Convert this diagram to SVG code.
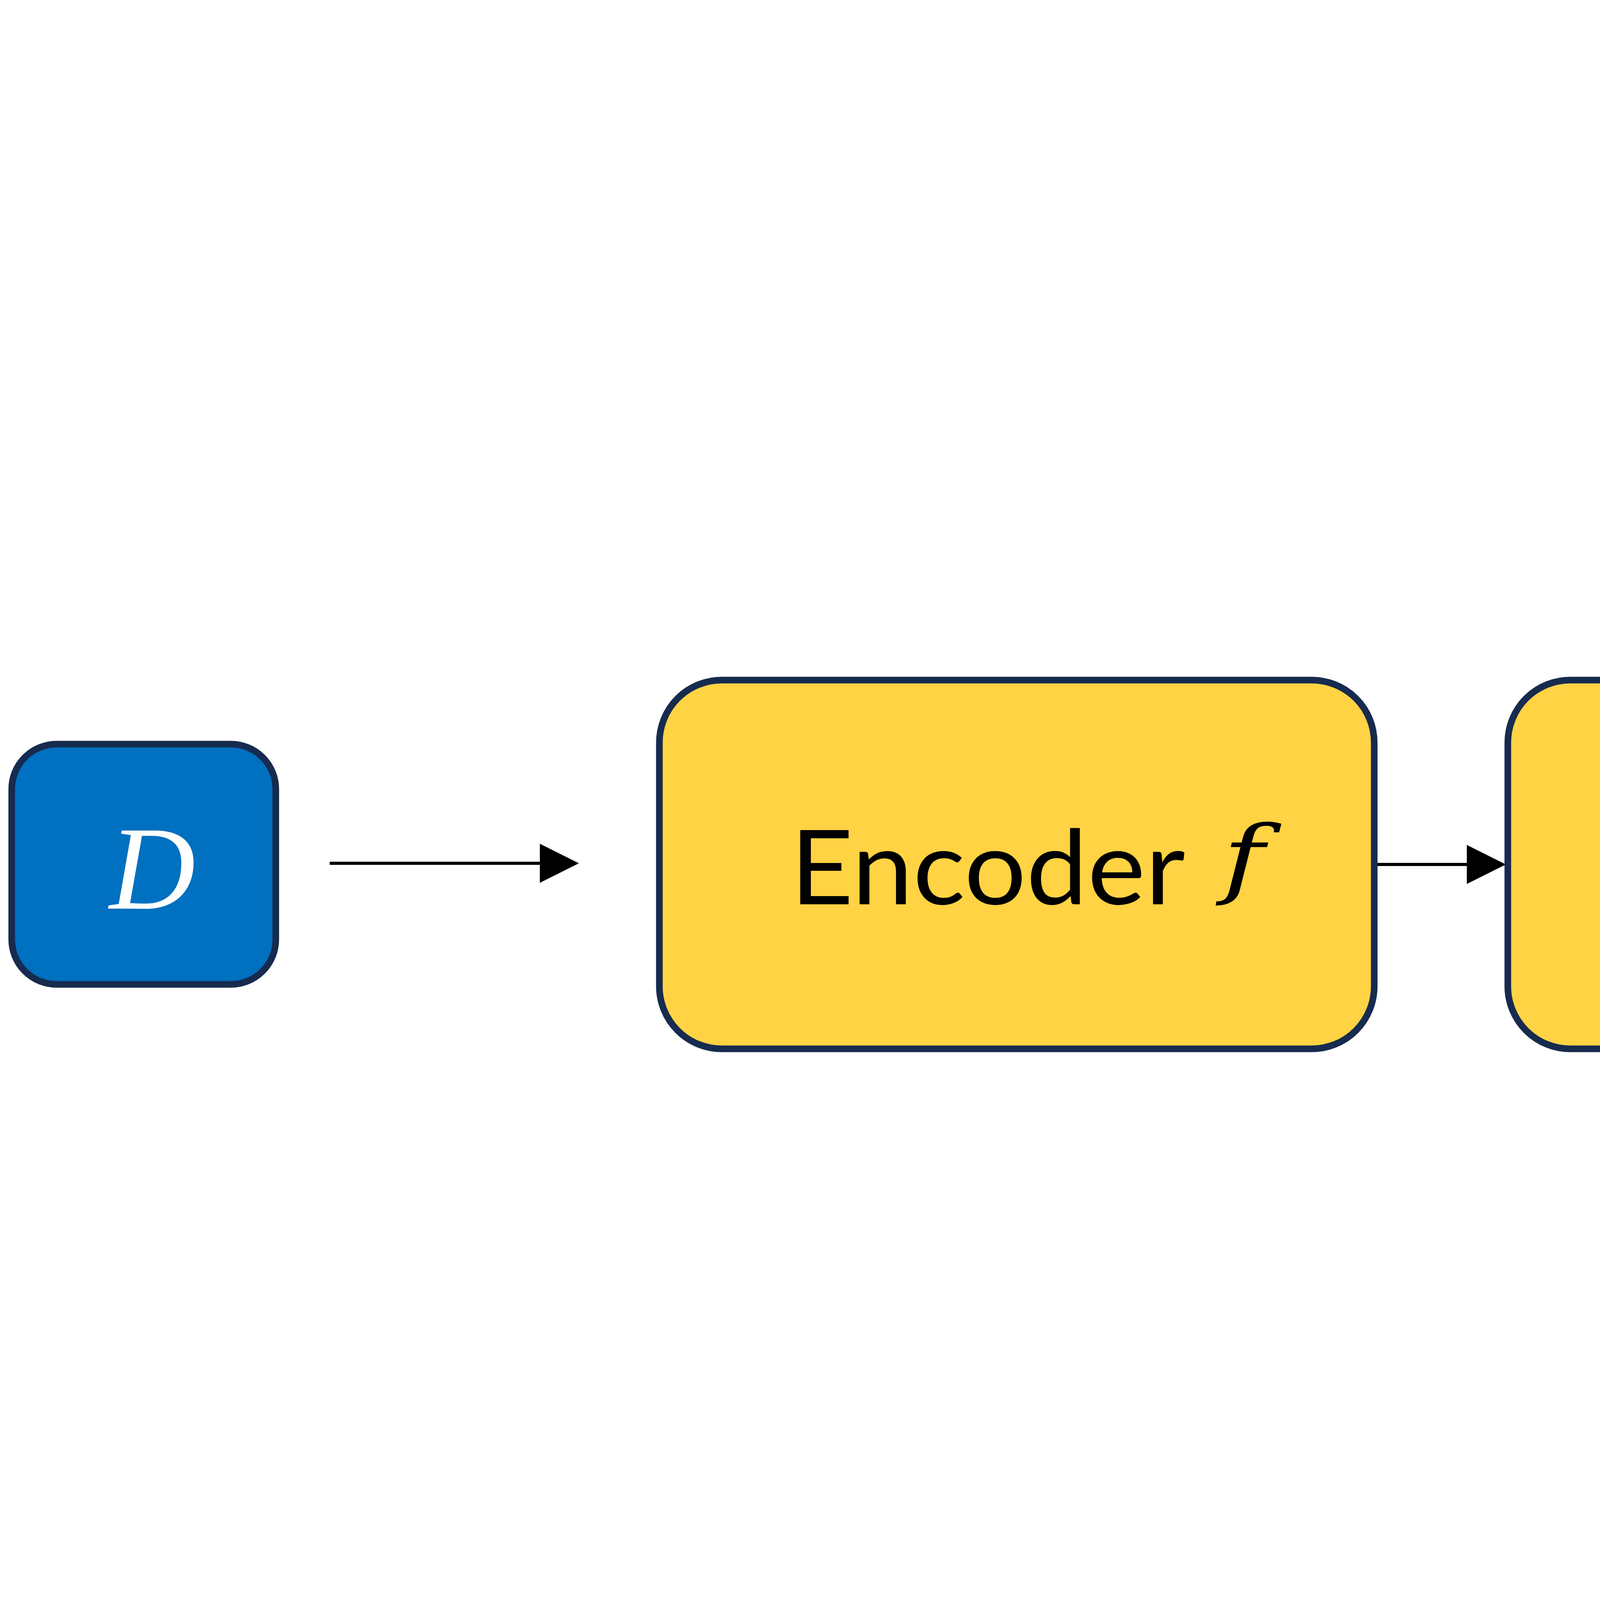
<svg xmlns="http://www.w3.org/2000/svg" width="7890" height="4393" viewBox="0 0 7890 4393">
<style>
.box{stroke:#172B4F;stroke-width:17}
.yellow{fill:#FFD343}
.lbl{font-family:Lato,"Open Sans","Liberation Sans",sans-serif;font-size:265px;fill:#000;font-variant-ligatures:none;font-feature-settings:"liga" 0}
.math{font-family:"Liberation Serif","DejaVu Serif",serif;font-style:italic}
.conn{stroke:#000;stroke-width:8;fill:none;marker-end:url(#arrow)}
</style>
<defs>
<marker id="arrow" markerUnits="userSpaceOnUse" markerWidth="100" markerHeight="100" refX="10" refY="50" orient="auto">
<path d="M0,0 L100,50 L0,100 Z" fill="#000"/>
</marker>
</defs>
<rect width="7890" height="4393" fill="#fff"/>
<g id="connectors">
<line class="conn" x1="844" y1="2210" x2="1392" y2="2210"/>
<line class="conn" x1="3526" y1="2213" x2="3765" y2="2213"/>
<line class="conn" x1="5699" y1="2213" x2="5942" y2="2213"/>
</g>
<g id="node-D">
<rect class="box" x="30" y="1905" width="676" height="615" rx="115" ry="115" fill="#0070C0"/>
<text class="math" x="390" y="2326" font-size="305" fill="#fff" text-anchor="middle">D</text>
</g>
<g id="node-encoder">
<rect class="box yellow" x="1688" y="1741" width="1830" height="944" rx="160" ry="160"/>
<text class="lbl" x="2023" y="2315" textLength="1011" lengthAdjust="spacingAndGlyphs">Encoder</text>
<text transform="translate(3130,2272) scale(1,0.765)" x="0" y="0" font-size="290" font-family="'DejaVu Serif',serif" font-style="italic">f</text>
</g>
<g id="node-prototype">
<rect class="box yellow" x="3860" y="1741" width="1831" height="944" rx="160" ry="160"/>
<text class="lbl" x="4166" y="2133" textLength="1217" lengthAdjust="spacingAndGlyphs">Prototype</text>
<text class="lbl" x="4330" y="2499" textLength="653" lengthAdjust="spacingAndGlyphs">Layer</text>
<text class="math" x="5080" y="2499" font-size="305">P</text>
</g>
<g id="node-classifier">
<rect x="6032" y="1741" width="1833" height="943" rx="160" ry="160" fill="#BFBFBF" stroke="#D9D9D9" stroke-width="10"/>
<rect x="6032" y="1741" width="1833" height="943" rx="160" ry="160" fill="none" stroke="#172B4F" stroke-width="17" stroke-dasharray="68 51"/>
<text class="lbl" x="6403" y="2315" textLength="1110" lengthAdjust="spacingAndGlyphs">Classifier</text>
</g>
</svg>
